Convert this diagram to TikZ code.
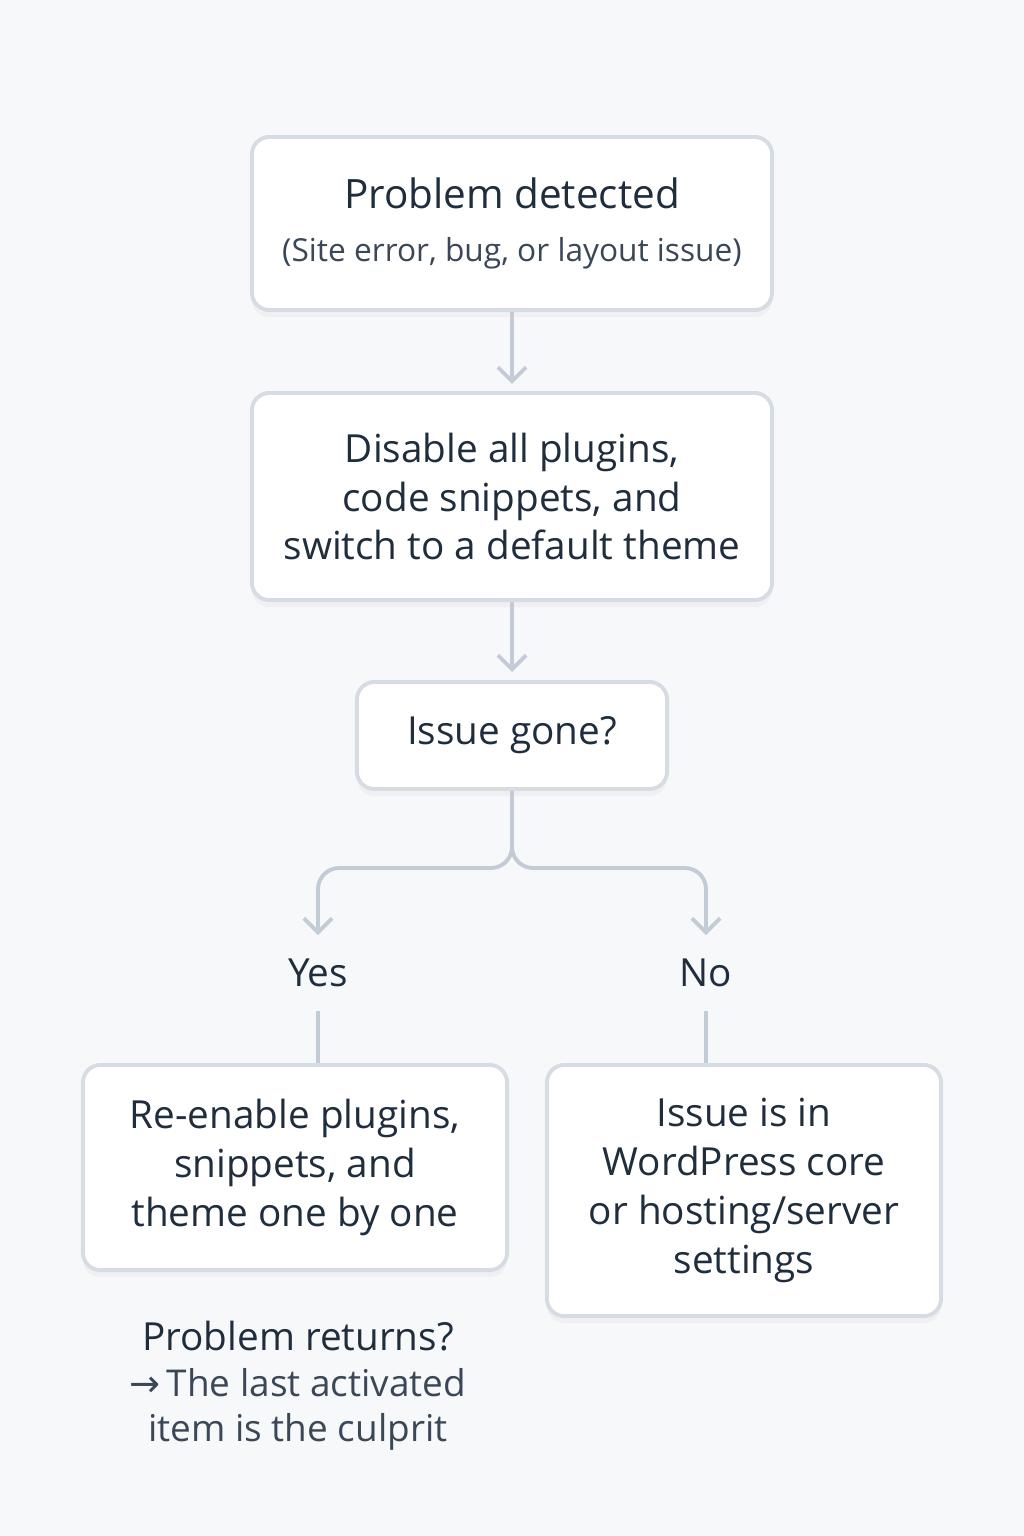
\documentclass[tikz,border=0pt]{standalone}
\usepackage{fontspec}
\setmainfont{Open Sans}
\newfontfamily\symfont{DejaVu Sans}
\usetikzlibrary{arrows.meta,positioning,shadows}
\definecolor{bgcol}{HTML}{F7F8FA}
\definecolor{txtcol}{HTML}{1F2D3D}
\definecolor{subcol}{HTML}{3A4756}
\definecolor{edgecol}{HTML}{D6DCE3}
\definecolor{linecol}{HTML}{C3CCD6}

\begin{document}
\begin{tikzpicture}[x=0.01cm, y=-0.01cm, >={Straight Barb[length=4pt,width=8pt]},
    box/.style={draw=edgecol, line width=1.1pt, fill=white, rounded corners=5pt, align=center,
        text=txtcol, font=\fontsize{11}{13.9}\selectfont, drop shadow={opacity=0.06, shadow xshift=0pt, shadow yshift=-2pt}},
    conn/.style={draw=linecol, line width=1.1pt},
    lbl/.style={text=txtcol, font=\fontsize{11}{13.9}\selectfont}]
    % background
    \fill[bgcol] (0,0) rectangle (1024,1536);
    \useasboundingbox (0,0) rectangle (1024,1536);

    % boxes
    \node[box, minimum width=5.2cm, minimum height=1.73cm] (detect) at (512,223.5)
        {\fontsize{11.5}{14}\selectfont Problem detected\\[1pt]
         {\fontsize{9}{11}\selectfont\color{subcol}(Site error, bug, or layout issue)}};
    \node[box, minimum width=5.2cm, minimum height=2.07cm] (disable) at (512,496.5)
        {Disable all plugins,\\code snippets, and\\switch to a default theme};
    \node[box, minimum width=3.1cm, minimum height=1.07cm] (gone) at (512,735.5) {Issue gone?};
    \node[box, minimum width=4.24cm, minimum height=2.05cm] (reenable) at (295,1167.5)
        {Re-enable plugins,\\snippets, and\\theme one by one};
    \node[box, minimum width=3.94cm, minimum height=2.51cm] (core) at (744,1190.5)
        {Issue is in\\WordPress core\\or hosting/server\\settings};

    % labels
    \node[lbl, minimum height=0.74cm] (yes) at (318,973) {Yes};
    \node[lbl, minimum height=0.74cm] (no) at (706,973) {No};
    \node[align=center, text=subcol, font=\fontsize{10.5}{13}\selectfont] (culprit) at (298,1386)
        {{\color{txtcol}\fontsize{11}{13}\selectfont Problem returns?}\\
         {\symfont→}\,The last activated\\item is the culprit};

    % connectors
    \coordinate (split) at (512,868);
    \coordinate (yestip) at (318,935);
    \coordinate (notip) at (706,935);
    \draw[conn,->] (detect.south) -- ++(0,72);
    \draw[conn,->] (disable.south) -- ++(0,70);
    \draw[conn,->,rounded corners=6pt] (gone.south) -- (split) -| (yestip);
    \draw[conn,->,rounded corners=6pt] (gone.south) -- (split) -| (notip);
    \draw[conn] (yes.south) -- (yes.south |- reenable.north);
    \draw[conn] (no.south) -- (no.south |- core.north);
\end{tikzpicture}
\end{document}
